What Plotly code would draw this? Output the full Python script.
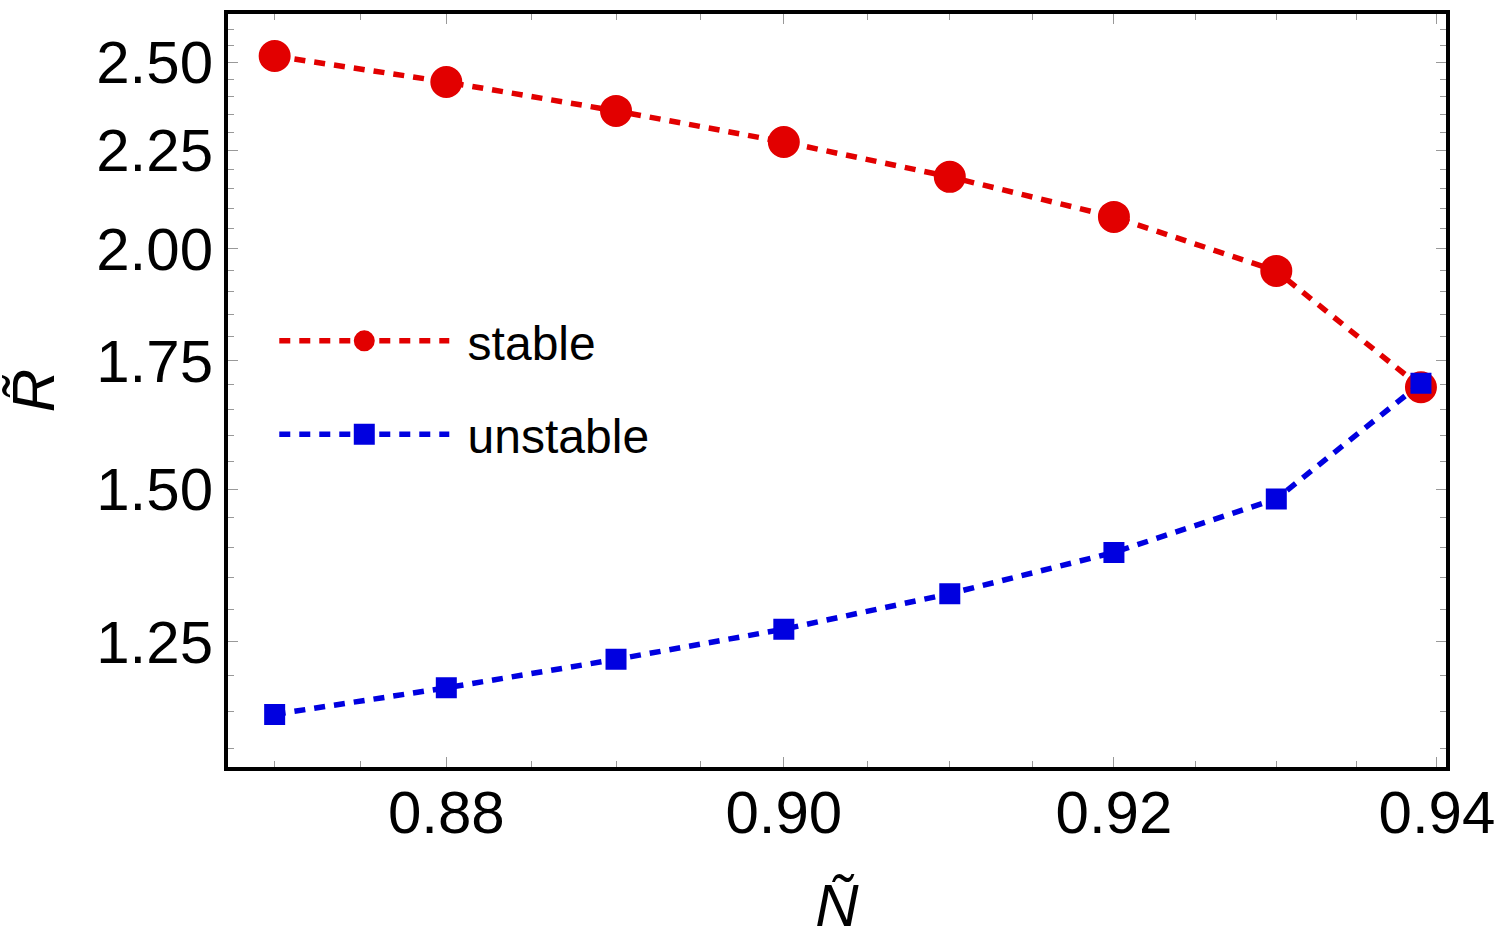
import plotly.graph_objects as go

N_vals = [0.87, 0.88, 0.89, 0.90, 0.91, 0.92, 0.93, 0.939]
R_stable = [2.519, 2.442, 2.359, 2.273, 2.180, 2.078, 1.948, 1.695]
R_unstable = [1.146, 1.183, 1.224, 1.269, 1.324, 1.391, 1.483, 1.703]

x_ticks = [0.88, 0.90, 0.92, 0.94]
x_ticktext = ["0.88", "0.90", "0.92", "0.94"]
x_minor = [0.87, 0.875, 0.885, 0.89, 0.895, 0.905, 0.91, 0.915, 0.925, 0.93, 0.935]
y_ticks = [1.25, 1.50, 1.75, 2.00, 2.25, 2.50]
y_ticktext = ["1.25", "1.50", "1.75", "2.00", "2.25", "2.50"]
y_minor = [1.10, 1.15, 1.20, 1.30, 1.35, 1.40, 1.45, 1.55, 1.60, 1.65, 1.70,
           1.80, 1.85, 1.90, 1.95, 2.05, 2.10, 2.15, 2.20, 2.30, 2.35, 2.40,
           2.45, 2.55, 2.60]

RED = "#E20000"
BLUE = "#0000E0"
FONT = "Liberation Sans"
NBSP = "\u00a0"

fig = go.Figure()
fig.add_trace(go.Scatter(
    x=N_vals, y=R_stable, name=NBSP + "stable", mode="lines+markers",
    legendgroup="a",
    line=dict(color=RED, width=5.5, dash="11px,9px"),
    marker=dict(symbol="circle", size=27, color=RED,
                line=dict(color=RED, width=5)),
))
fig.add_trace(go.Scatter(
    x=N_vals, y=R_unstable, name=NBSP + "unstable", mode="lines+markers",
    legendgroup="b",
    line=dict(color=BLUE, width=5.5, dash="11px,9px"),
    marker=dict(symbol="square", size=16, color=BLUE,
                line=dict(color=BLUE, width=5)),
))

axis_common = dict(
    type="log",
    showline=True, linecolor="black", linewidth=4, mirror="allticks",
    ticks="inside", ticklen=10, tickwidth=1, tickcolor="#999999",
    showgrid=False, zeroline=False, automargin=False,
    tickfont=dict(family=FONT, size=60, color="black"),
)

fig.update_xaxes(
    **axis_common,
    range=[-0.06183, -0.02661],
    tickmode="array", tickvals=x_ticks, ticktext=x_ticktext,
    minor=dict(tickmode="array", tickvals=x_minor, ticks="inside",
               ticklen=6, tickwidth=1, tickcolor="#999999", showgrid=False),
    title=dict(text="<i>Ñ</i>", font=dict(family=FONT, size=60, color="black"),
               standoff=40),
    ticklabelstandoff=-10,
)
fig.update_yaxes(
    **axis_common,
    range=[0.03185, 0.42308],
    tickmode="array", tickvals=y_ticks, ticktext=y_ticktext,
    minor=dict(tickmode="array", tickvals=y_minor, ticks="inside",
               ticklen=6, tickwidth=1, tickcolor="#999999", showgrid=False),
    title=dict(text="<i>R̃</i>", font=dict(family=FONT, size=60, color="black"),
               standoff=26),
    ticklabelstandoff=-1,
)

fig.update_layout(
    width=1500, height=950,
    margin=dict(l=228, r=54, t=14, b=183),
    paper_bgcolor="white", plot_bgcolor="white",
    showlegend=True,
    legend=dict(
        x=0.038, y=0.616, xanchor="left", yanchor="top",
        font=dict(family=FONT, size=48, color="black"),
        bgcolor="rgba(0,0,0,0)", borderwidth=0,
        itemwidth=170, tracegroupgap=28, traceorder="grouped",
        itemsizing="trace",
    ),
)

fig.write_html("out.html")
